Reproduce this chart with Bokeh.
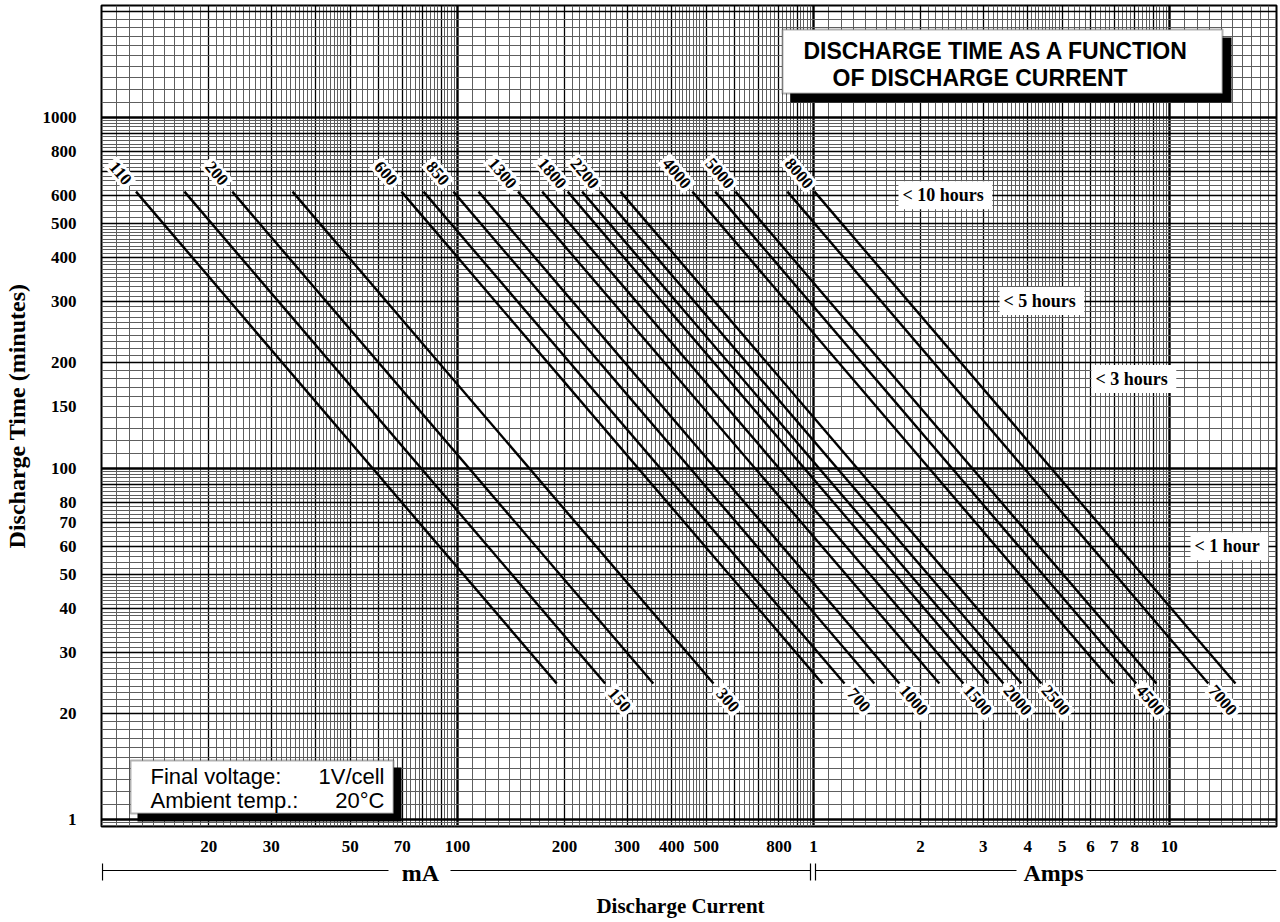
import math
from bokeh.plotting import figure
from bokeh.models import FixedTicker, Grid, Range1d, BoxAnnotation, Label
from bokeh.core.properties import value
from bokeh.layouts import column
from bokeh.embed import file_html
from bokeh.resources import INLINE

# ---------------- data ----------------
CAPACITY_MAH = [110, 150, 200, 300, 600, 700, 850, 1000, 1300, 1500,
                1800, 2000, 2200, 2500, 4000, 4500, 5000, 7000, 8000]
# discharge current (mA) where each line starts (upper end) and ends (lower end)
CURRENT_START_MA = [12.5, 17.1, 23.3, 34.4, 69.6, 80.3, 97.4, 114.6, 148, 173,
                    204, 224, 252, 287, 457, 530, 604, 845, 1007]
CURRENT_END_MA = [190, 260, 355, 524, 1060, 1223, 1483, 1745, 2259, 2639,
                  3102, 3418, 3841, 4371, 6960, 8072, 9199, 12870, 15337]
TIME_START_MIN = 615
TIME_END_MIN = 24.4
LABEL_SIDE = ["top", "bottom"] * 9 + ["top"]

X_TICKS = [20, 30, 50, 70, 100, 200, 300, 400, 500, 800,
           1000, 2000, 3000, 4000, 5000, 6000, 7000, 8000, 10000]
X_TICK_LABELS = ["20", "30", "50", "70", "100", "200", "300", "400", "500", "800",
                 "1", "2", "3", "4", "5", "6", "7", "8", "10"]
Y_TICKS = [10, 20, 30, 40, 50, 60, 70, 80, 100, 150, 200, 300, 400, 500, 600, 800, 1000]
Y_TICK_LABELS = ["1", "20", "30", "40", "50", "60", "70", "80", "100", "150",
                 "200", "300", "400", "500", "600", "800", "1000"]

HOUR_TEXT = ["<  10 hours", "<  5 hours", "<  3 hours", "<  1 hour"]
HOUR_MINUTES = [600, 300, 180, 60]

# ---------------- layout ----------------
W, H_MAIN, H_BOT = 1280, 858, 64
X_MIN, X_MAX = 10, 20000
Y_MIN, Y_MAX = 9.55, 2085
FL, FR, FT, FB = 101, 1276, 5, 826
PX_X = (FR - FL) / math.log10(X_MAX / X_MIN)
PX_Y = (FB - FT) / math.log10(Y_MAX / Y_MIN)


def sx(px):
    return X_MIN * (X_MAX / X_MIN) ** ((px - FL) / (FR - FL))


def sy(py):
    return Y_MIN * (Y_MAX / Y_MIN) ** ((FB - py) / (FB - FT))


SERIF = "Liberation Serif"
SANS = "Liberation Sans"

p = figure(width=W, height=H_MAIN, x_axis_type="log", y_axis_type="log",
           x_range=Range1d(X_MIN, X_MAX), y_range=Range1d(Y_MIN, Y_MAX),
           toolbar_location=None, output_backend="svg", title=None,
           min_border_left=FL, min_border_right=W - FR,
           min_border_top=FT, min_border_bottom=H_MAIN - FB)
p.background_fill_color = "white"
p.border_fill_color = "white"
p.outline_line_color = "black"
p.outline_line_width = 2
p.xgrid.visible = False
p.ygrid.visible = False


# log graph-paper grid
def mantissa_sets():
    fine = []
    for i in range(11, 50):
        if i % 10 != 0:
            fine.append(i / 10)
    for i in range(52, 100, 2):
        if i % 10 != 0:
            fine.append(i / 10)
    ints = [2, 3, 4, 5, 6, 7, 8, 9]
    return fine, ints, [1]


def grid_vals(lo, hi, mants):
    out = []
    for k in range(int(math.floor(math.log10(lo))), int(math.ceil(math.log10(hi))) + 1):
        for m in mants:
            v = round(m * 10 ** k, 6)
            if lo < v < hi:
                out.append(v)
    return out


fine, ints, dec = mantissa_sets()
for dim, lo, hi in ((0, X_MIN, X_MAX), (1, Y_MIN, Y_MAX)):
    for mants, col, wid in ((fine, "#5e5e5e", 1), (ints, "black", 1.3), (dec, "black", 2.4)):
        g = Grid(dimension=dim, ticker=FixedTicker(ticks=grid_vals(lo, hi, mants)),
                 grid_line_color=col, grid_line_width=wid)
        p.add_layout(g)

# axes
p.xaxis.ticker = FixedTicker(ticks=X_TICKS)
p.xaxis.major_label_overrides = dict(zip(X_TICKS, X_TICK_LABELS))
p.yaxis.ticker = FixedTicker(ticks=Y_TICKS)
p.yaxis.major_label_overrides = dict(zip(Y_TICKS, Y_TICK_LABELS))
for ax in (p.xaxis, p.yaxis):
    ax.axis_line_color = None
    ax.major_tick_line_color = None
    ax.minor_tick_line_color = None
    ax.major_label_text_font = SERIF
    ax.major_label_text_font_style = "bold"
    ax.major_label_text_font_size = "17px"
    ax.major_label_text_color = "black"
p.xaxis.major_label_standoff = 8
p.yaxis.major_label_standoff = 19
p.yaxis.axis_label = "Discharge Time (minutes)"
p.yaxis.axis_label_text_font = SERIF
p.yaxis.axis_label_text_font_style = "bold"
p.yaxis.axis_label_text_font_size = "24px"
p.yaxis.axis_label_text_color = "black"
p.yaxis.axis_label_standoff = 10

# discharge lines
n = len(CAPACITY_MAH)
p.segment(x0=CURRENT_START_MA, y0=[TIME_START_MIN] * n,
          x1=CURRENT_END_MA, y1=[TIME_END_MIN] * n,
          line_color="black", line_width=2.4)

# capacity labels along the line extensions
lab_x, lab_y, lab_a = [], [], []
for i in range(n):
    lx0, lx1 = math.log10(CURRENT_START_MA[i]), math.log10(CURRENT_END_MA[i])
    ly0, ly1 = math.log10(TIME_START_MIN), math.log10(TIME_END_MIN)
    dxp, dyp = (lx1 - lx0) * PX_X, (ly0 - ly1) * PX_Y
    length = math.hypot(dxp, dyp)
    u = -24 / length if LABEL_SIDE[i] == "top" else 1 + 22 / length
    lab_x.append(10 ** (lx0 + u * (lx1 - lx0)))
    lab_y.append(10 ** (ly0 + u * (ly1 - ly0)))
    lab_a.append(-math.atan2(dyp, dxp))
p.text(x=lab_x, y=lab_y, text=[str(c) for c in CAPACITY_MAH], angle=lab_a,
       text_font=value(SERIF), text_font_style="bold", text_font_size="17px",
       text_color="black", text_align="center", text_baseline="middle",
       background_fill_color="white", padding=3)

# hour markers
HOUR_LEFT_PX = [898, 999, 1091, 1190]
p.text(x=[sx(v) for v in HOUR_LEFT_PX], y=HOUR_MINUTES, text=HOUR_TEXT,
       text_font=value(SERIF), text_font_style="bold", text_font_size="18px",
       text_color="black", text_align="left", text_baseline="middle",
       background_fill_color="white", padding=4)

# title box with shadow
p.add_layout(BoxAnnotation(left=sx(790), right=sx(1231), top=sy(37), bottom=sy(102),
                           fill_color="black", fill_alpha=1, line_color=None))
p.add_layout(BoxAnnotation(left=sx(782), right=sx(1222), top=sy(29), bottom=sy(93),
                           fill_color="white", fill_alpha=1, line_color="black", line_width=2))
p.add_layout(Label(x=sx(803), y=sy(50), text="DISCHARGE TIME AS A FUNCTION",
                   text_font=SANS, text_font_style="bold", text_font_size="23px",
                   text_color="black", text_align="left", text_baseline="middle"))
p.add_layout(Label(x=sx(832), y=sy(77), text="OF DISCHARGE CURRENT",
                   text_font=SANS, text_font_style="bold", text_font_size="23px",
                   text_color="black", text_align="left", text_baseline="middle"))

# conditions box with shadow
p.add_layout(BoxAnnotation(left=sx(137), right=sx(401), top=sy(767), bottom=sy(821),
                           fill_color="black", fill_alpha=1, line_color=None))
p.add_layout(BoxAnnotation(left=sx(130), right=sx(393), top=sy(760), bottom=sy(813),
                           fill_color="white", fill_alpha=1, line_color="black", line_width=2))
for txt, xpx, ypx, al in (("Final voltage:", 150, 776, "left"), ("1V/cell", 384, 776, "right"),
                          ("Ambient temp.:", 150, 800, "left"), ("20°C", 384, 800, "right")):
    p.add_layout(Label(x=sx(xpx), y=sy(ypx), text=txt, text_font=SANS,
                       text_font_size="22px", text_color="black",
                       text_align=al, text_baseline="middle"))

# ---------------- bottom strip: unit bracket and axis title ----------------
TOP = H_MAIN  # canvas y of the strip's top edge
p2 = figure(width=W, height=H_BOT, x_axis_type="log", x_range=p.x_range,
            y_range=Range1d(H_BOT, 0),
            toolbar_location=None, output_backend="svg", title=None,
            x_axis_location=None, y_axis_location=None,
            min_border_left=FL, min_border_right=W - FR, min_border_top=0, min_border_bottom=0)
p2.grid.visible = False
p2.outline_line_color = None
p2.background_fill_color = "white"
p2.border_fill_color = "white"
line_y = 870 - TOP
p2.segment(x0=[sx(101.5), sx(450), sx(815), sx(1086)], y0=[line_y] * 4,
           x1=[sx(388), sx(810), sx(1016), sx(1276)], y1=[line_y] * 4,
           line_color="black", line_width=1.2)
p2.segment(x0=[sx(102), sx(810), sx(815)], y0=[862 - TOP + 1] * 3,
           x1=[sx(102), sx(810), sx(815)], y1=[880 - TOP] * 3,
           line_color="black", line_width=1.2)
p2.text(x=[sx(420), sx(1053)], y=[872 - TOP] * 2, text=["mA", "Amps"], text_font=value(SERIF),
        text_font_style="bold", text_font_size="24px", text_color="black",
        text_align="center", text_baseline="middle")
p2.text(x=[sx(680)], y=[905 - TOP], text=["Discharge Current"], text_font=value(SERIF),
        text_font_style="bold", text_font_size="21px", text_color="black",
        text_align="center", text_baseline="middle")

layout = column(p, p2, spacing=0)
open("out.html", "w").write(file_html(layout, INLINE))
